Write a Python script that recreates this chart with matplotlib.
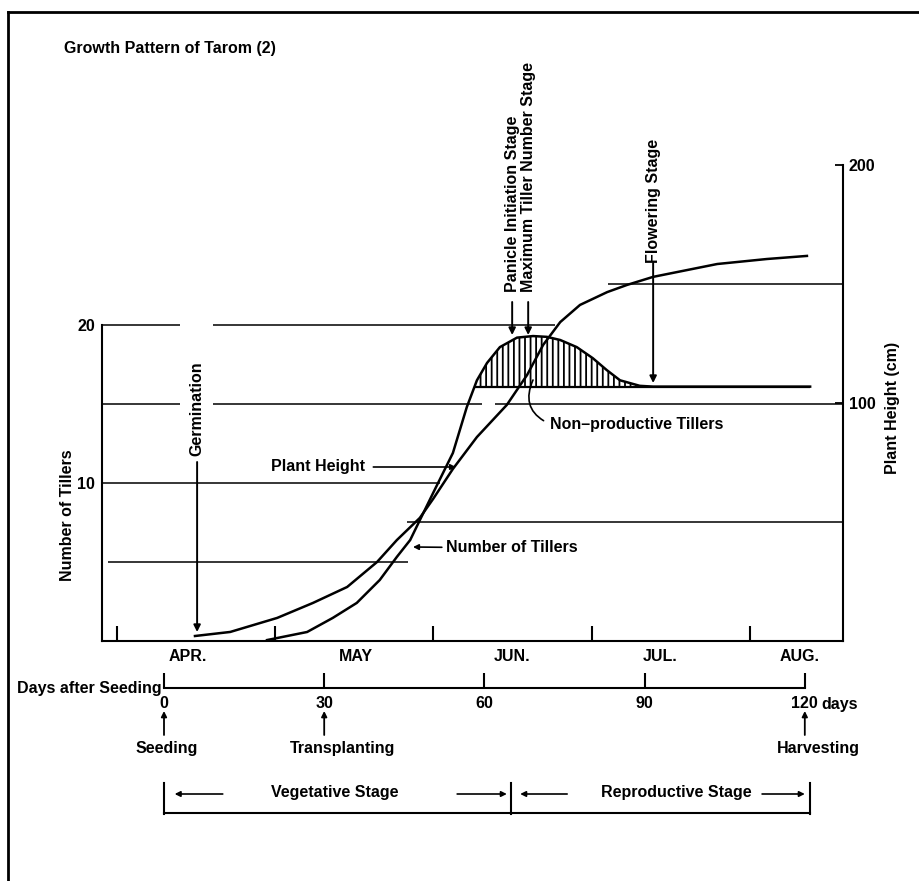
import matplotlib.pyplot as plt
from matplotlib.transforms import blended_transform_factory
from matplotlib.lines import Line2D

plt.rcParams['font.family'] = ['Liberation Sans', 'DejaVu Sans']
plt.rcParams['font.weight'] = 'bold'
plt.rcParams['axes.labelweight'] = 'bold'
plt.rcParams['font.size'] = 11.5
plt.rcParams['hatch.linewidth'] = 1.3

# growth curves, x = days after seeding
height_days = [5.8, 12.4, 21.2, 27.9, 34.3, 39.9, 43.6, 47.9, 50.4, 54.1, 58.6, 64.2, 68.0,
               71.0, 74.2, 77.9, 83.0, 86.7, 91.6, 103.6, 112.9, 120.4]
height_cm = [2.1, 3.8, 9.7, 16.0, 22.7, 33.2, 42.4, 51.7, 59.7, 72.3, 85.7, 99.2, 111.8,
             124.4, 134.0, 141.2, 146.6, 149.6, 153.0, 158.4, 160.5, 161.8]

tiller_days = [19.3, 26.8, 31.6, 36.1, 40.4, 43.6, 46.1, 48.1, 50.4, 54.1, 56.7, 58.6, 60.5,
               62.9, 66.1, 69.1, 71.7, 74.2, 77.3, 80.3, 82.9, 85.4, 89.1, 91.6, 121]
tillers = [0.06, 0.57, 1.46, 2.41, 3.86, 5.32, 6.39, 7.78, 9.37, 11.9, 14.8, 16.5, 17.6,
           18.6, 19.2, 19.3, 19.25, 19.05, 18.6, 17.9, 17.15, 16.5, 16.15, 16.1, 16.1]
productive_tillers = 16.1

months = ['APR.', 'MAY', 'JUN.', 'JUL.', 'AUG.']
month_label_days = [4.5, 36, 65.2, 92.9, 119.1]
month_tick_days = [-8.8, 20.8, 50.4, 80.1, 109.7]
day_ticks = [0, 30, 60, 90, 120]
stage_days = [0, 65, 121]

germination_day = 6.2
panicle_day = 65.2
max_tiller_day = 68.2
flowering_day = 91.6

W, H = 919, 881
fig = plt.figure(figsize=(W / 100, H / 100), dpi=100)


def fx(px):
    return px / W


def fy(py):
    return 1 - py / H


def dx(px):
    # picture pixel -> days after seeding
    return (px - 164) / 5.34


ax = fig.add_axes([fx(102), fy(641), fx(843) - fx(102), fy(165) - fy(641)])
ax.set_xlim(dx(102), dx(843))
ax.set_ylim(0, 476 / 15.8)
ax2 = ax.twinx()
ax2.set_ylim(0, 200)

for s in ['top', 'right']:
    ax.spines[s].set_visible(False)
for s in ['top', 'left', 'bottom']:
    ax2.spines[s].set_visible(False)
ax.spines['left'].set_bounds(0, 20)
ax.spines['left'].set_linewidth(1.5)
ax.spines['bottom'].set_linewidth(1.5)
ax2.spines['right'].set_linewidth(1.5)

ax.set_xticks(month_tick_days, [''] * len(month_tick_days))
ax.set_xticks(month_label_days, months, minor=True)
ax.tick_params(axis='x', which='major', direction='in', length=11, width=1.5)
ax.tick_params(axis='x', which='minor', length=0, pad=6)
ax.set_yticks([10, 20])
ax.tick_params(axis='y', length=0, pad=5)
ax2.set_yticks([100, 200])
ax2.tick_params(axis='y', direction='in', length=6, width=1.3, pad=4)

ax.set_ylabel('Number of Tillers')
ax.yaxis.set_label_coords(-0.0365, 0.265)
ax2.set_ylabel('Plant Height (cm)')
ax2.yaxis.set_label_coords(1.0567, 0.49)

# horizontal rules of both scales
grid_lw = 1.1
for lo, hi in [(102, 180), (213, 555)]:
    ax.hlines(20, dx(lo), dx(hi), color='k', lw=grid_lw)
for lo, hi in [(102, 180), (213, 482), (495, 843)]:
    ax.hlines(15, dx(lo), dx(hi), color='k', lw=grid_lw)
ax.hlines(10, dx(102), dx(440), color='k', lw=grid_lw)
ax.hlines(5, dx(108), dx(408), color='k', lw=grid_lw)
ax2.hlines(50, dx(407), dx(843), color='k', lw=grid_lw)
ax2.hlines(150, dx(608), dx(843), color='k', lw=grid_lw)

# curves
ax.plot(tiller_days, tillers, color='k', lw=1.8)
ax2.plot(height_days, height_cm, color='k', lw=1.8)
first_full = next(d for d, t in zip(tiller_days, tillers) if t >= productive_tillers)
ax.hlines(productive_tillers, first_full - 0.5, tiller_days[-1], color='k', lw=1.6)
ax.fill_between(tiller_days, productive_tillers, tillers,
                where=[t >= productive_tillers for t in tillers], interpolate=True,
                facecolor='none', edgecolor='k', hatch='|||', lw=0)

tr = blended_transform_factory(ax.transData, fig.transFigure)
arrow = dict(arrowstyle='-|>', color='k', lw=1.4, mutation_scale=10, shrinkA=0, shrinkB=0)


def down_arrow(day, y0, y1):
    ax.annotate('', xy=(day, fy(y1)), xytext=(day, fy(y0)), xycoords=tr, textcoords=tr,
                arrowprops=arrow, annotation_clip=False)


# stage markers
ax.text(germination_day, fy(409), 'Germination', transform=tr, rotation=90,
        ha='center', va='center')
down_arrow(germination_day, 462, 632)
ax.text(panicle_day, fy(292), 'Panicle Initiation Stage', transform=tr, rotation=90,
        ha='center', va='bottom')
down_arrow(panicle_day, 302, 335)
ax.text(max_tiller_day, fy(292), 'Maximum Tiller Number Stage', transform=tr, rotation=90,
        ha='center', va='bottom')
down_arrow(max_tiller_day, 302, 335)
ax.text(flowering_day, fy(263), 'Flowering Stage', transform=tr, rotation=90,
        ha='center', va='bottom')
down_arrow(flowering_day, 263, 383)

ax.annotate('Plant Height', xy=(dx(456), fy(467)), xytext=(dx(365), fy(467)),
            xycoords=tr, textcoords=tr, ha='right', va='center',
            arrowprops=dict(arrowstyle='-|>', color='k', lw=1.2, mutation_scale=8,
                            shrinkA=4, shrinkB=0))
ax.annotate('Number of Tillers', xy=(dx(413), fy(547)), xytext=(dx(446), fy(548)),
            xycoords=tr, textcoords=tr, ha='left', va='center',
            arrowprops=dict(arrowstyle='-|>', color='k', lw=1.2, mutation_scale=8,
                            shrinkA=1, shrinkB=0))
ax.annotate('Non\u2013productive Tillers', xy=(dx(533), fy(380)), xytext=(dx(550), fy(424)),
            xycoords=tr, textcoords=tr, ha='left', va='center',
            arrowprops=dict(arrowstyle='-', color='k', lw=1.2, relpos=(0, 0.5),
                            connectionstyle='arc3,rad=-0.5', shrinkA=3, shrinkB=0))

# days after seeding scale
ax3 = fig.add_axes([fx(102), fy(688), fx(843) - fx(102), 0.0005])
ax3.set_xlim(ax.get_xlim())
ax3.patch.set_visible(False)
for s in ['top', 'right', 'left']:
    ax3.spines[s].set_visible(False)
ax3.spines['bottom'].set_bounds(0, 120)
ax3.spines['bottom'].set_linewidth(1.5)
ax3.set_yticks([])
ax3.set_xticks(day_ticks, [str(d) for d in day_ticks])
ax3.tick_params(axis='x', direction='in', length=11, width=1.5, pad=6)
fig.text(fx(821), fy(704), 'days', ha='left', va='center')
fig.text(fx(162), fy(689), 'Days after Seeding', ha='right', va='center')

for day, label, lx in [(0, 'Seeding', 0.5), (30, 'Transplanting', 33.5), (120, 'Harvesting', 122.5)]:
    ax.annotate('', xy=(day, fy(711)), xytext=(day, fy(735)), xycoords=tr, textcoords=tr,
                arrowprops=dict(arrowstyle='-|>', color='k', lw=1.3, mutation_scale=8,
                                shrinkA=0, shrinkB=0), annotation_clip=False)
    ax.text(lx, fy(748), label, transform=tr, ha='center', va='center')

# stage bracket
for d in stage_days:
    fig.add_artist(Line2D([d, d], [fy(783), fy(814)], transform=tr, color='k', lw=1.5))
fig.add_artist(Line2D([stage_days[0], stage_days[-1]], [fy(813), fy(813)], transform=tr,
                      color='k', lw=1.5))
stage_arrow = dict(arrowstyle='-|>', color='k', lw=1.2, mutation_scale=8, shrinkA=0, shrinkB=0)
for start, end in [(11, 2), (54.9, 64.2), (75.5, 66.7), (112, 120)]:
    ax.annotate('', xy=(end, fy(794)), xytext=(start, fy(794)), xycoords=tr, textcoords=tr,
                arrowprops=stage_arrow, annotation_clip=False)
ax.text(32.0, fy(793), 'Vegetative Stage', transform=tr, ha='center', va='center')
ax.text(95.9, fy(793), 'Reproductive Stage', transform=tr, ha='center', va='center')

# frame of the page
fig.add_artist(Line2D([fx(8), fx(8)], [fy(12), 0], color='k', lw=2))
fig.add_artist(Line2D([fx(8), 1], [fy(12), fy(12)], color='k', lw=2))
fig.text(fx(64), fy(48), 'Growth Pattern of Tarom (2)', ha='left', va='center')

fig.savefig('out.png', dpi=100)
